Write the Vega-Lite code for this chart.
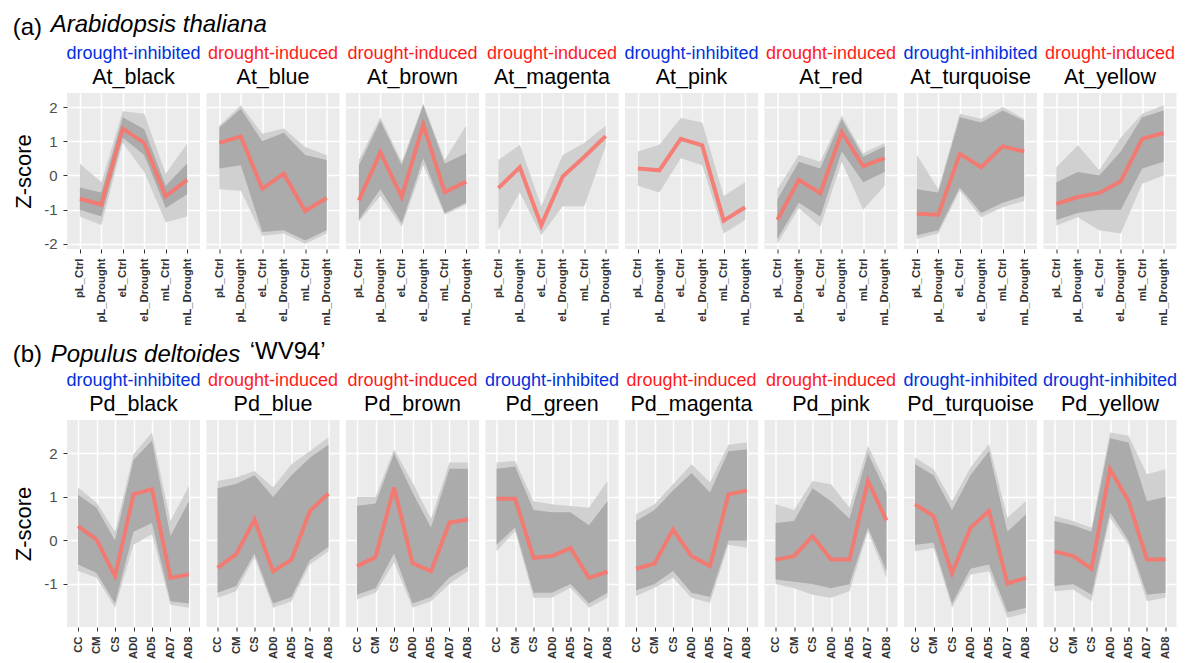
{
"$schema": "https://vega.github.io/schema/vega-lite/v6.json",
"padding": {"left": 12, "top": 12, "right": 2, "bottom": 0},
"data": {"name": "d"},
"datasets": {"d": [
{"m":"At_black","c":"pL_Ctrl","v":-0.68,"lo":-1.2,"hi":0.34,"a":-1.0,"b":-0.35},
{"m":"At_black","c":"pL_Drought","v":-0.85,"lo":-1.45,"hi":-0.2,"a":-1.2,"b":-0.5},
{"m":"At_black","c":"eL_Ctrl","v":1.37,"lo":0.95,"hi":1.88,"a":1.1,"b":1.7},
{"m":"At_black","c":"eL_Drought","v":0.95,"lo":0.1,"hi":1.8,"a":0.6,"b":1.35},
{"m":"At_black","c":"mL_Ctrl","v":-0.61,"lo":-1.37,"hi":0.05,"a":-0.95,"b":-0.3},
{"m":"At_black","c":"mL_Drought","v":-0.13,"lo":-1.2,"hi":0.93,"a":-0.55,"b":0.35},
{"m":"At_blue","c":"pL_Ctrl","v":0.95,"lo":-0.4,"hi":1.46,"a":0.2,"b":1.4},
{"m":"At_blue","c":"pL_Drought","v":1.14,"lo":-0.45,"hi":2.05,"a":0.3,"b":1.95},
{"m":"At_blue","c":"eL_Ctrl","v":-0.39,"lo":-1.76,"hi":1.22,"a":-1.65,"b":1.0},
{"m":"At_blue","c":"eL_Drought","v":0.05,"lo":-1.7,"hi":1.37,"a":-1.6,"b":1.25},
{"m":"At_blue","c":"mL_Ctrl","v":-1.04,"lo":-2.0,"hi":0.83,"a":-1.9,"b":0.6},
{"m":"At_blue","c":"mL_Drought","v":-0.66,"lo":-1.7,"hi":0.59,"a":-1.6,"b":0.45},
{"m":"At_brown","c":"pL_Ctrl","v":-0.73,"lo":-1.35,"hi":0.45,"a":-1.3,"b":0.3},
{"m":"At_brown","c":"pL_Drought","v":0.68,"lo":-0.6,"hi":1.7,"a":-0.4,"b":1.6},
{"m":"At_brown","c":"eL_Ctrl","v":-0.63,"lo":-1.5,"hi":0.4,"a":-1.4,"b":0.3},
{"m":"At_brown","c":"eL_Drought","v":1.49,"lo":0.3,"hi":2.1,"a":0.5,"b":2.05},
{"m":"At_brown","c":"mL_Ctrl","v":-0.49,"lo":-1.15,"hi":0.45,"a":-1.1,"b":0.35},
{"m":"At_brown","c":"mL_Drought","v":-0.18,"lo":-0.85,"hi":1.45,"a":-0.8,"b":0.65},
{"m":"At_magenta","c":"pL_Ctrl","v":-0.37,"lo":-1.6,"hi":0.45},
{"m":"At_magenta","c":"pL_Drought","v":0.24,"lo":-0.5,"hi":0.9},
{"m":"At_magenta","c":"eL_Ctrl","v":-1.46,"lo":-1.75,"hi":-0.9},
{"m":"At_magenta","c":"eL_Drought","v":-0.03,"lo":-0.9,"hi":0.6},
{"m":"At_magenta","c":"mL_Ctrl","v":0.54,"lo":-0.9,"hi":0.95},
{"m":"At_magenta","c":"mL_Drought","v":1.15,"lo":0.85,"hi":1.45},
{"m":"At_pink","c":"pL_Ctrl","v":0.2,"lo":-0.3,"hi":0.7},
{"m":"At_pink","c":"pL_Drought","v":0.15,"lo":-0.5,"hi":0.9},
{"m":"At_pink","c":"eL_Ctrl","v":1.07,"lo":0.5,"hi":1.68},
{"m":"At_pink","c":"eL_Drought","v":0.88,"lo":0.3,"hi":1.55},
{"m":"At_pink","c":"mL_Ctrl","v":-1.32,"lo":-1.7,"hi":-0.6},
{"m":"At_pink","c":"mL_Drought","v":-0.93,"lo":-1.3,"hi":-0.2},
{"m":"At_red","c":"pL_Ctrl","v":-1.3,"lo":-2.0,"hi":-0.4,"a":-1.85,"b":-0.7},
{"m":"At_red","c":"pL_Drought","v":-0.13,"lo":-0.95,"hi":0.6,"a":-0.8,"b":0.4},
{"m":"At_red","c":"eL_Ctrl","v":-0.52,"lo":-1.5,"hi":0.4,"a":-1.2,"b":0.2},
{"m":"At_red","c":"eL_Drought","v":1.27,"lo":0.4,"hi":1.75,"a":0.7,"b":1.65},
{"m":"At_red","c":"mL_Ctrl","v":0.27,"lo":-1.0,"hi":0.65,"a":-0.2,"b":0.55},
{"m":"At_red","c":"mL_Drought","v":0.51,"lo":-0.3,"hi":0.95,"a":0.1,"b":0.85},
{"m":"At_turquoise","c":"pL_Ctrl","v":-1.12,"lo":-1.85,"hi":0.6,"a":-1.75,"b":-0.4},
{"m":"At_turquoise","c":"pL_Drought","v":-1.15,"lo":-1.7,"hi":-0.4,"a":-1.6,"b":-0.5},
{"m":"At_turquoise","c":"eL_Ctrl","v":0.63,"lo":-0.45,"hi":1.8,"a":-0.35,"b":1.7},
{"m":"At_turquoise","c":"eL_Drought","v":0.24,"lo":-1.22,"hi":1.66,"a":-1.1,"b":1.55},
{"m":"At_turquoise","c":"mL_Ctrl","v":0.85,"lo":-0.93,"hi":2.0,"a":-0.8,"b":1.9},
{"m":"At_turquoise","c":"mL_Drought","v":0.7,"lo":-0.75,"hi":1.66,"a":-0.6,"b":1.6},
{"m":"At_yellow","c":"pL_Ctrl","v":-0.83,"lo":-1.46,"hi":0.24,"a":-1.3,"b":-0.2},
{"m":"At_yellow","c":"pL_Drought","v":-0.63,"lo":-1.22,"hi":0.88,"a":-1.1,"b":0.1},
{"m":"At_yellow","c":"eL_Ctrl","v":-0.51,"lo":-1.6,"hi":0.15,"a":-1.0,"b":0.0},
{"m":"At_yellow","c":"eL_Drought","v":-0.17,"lo":-1.7,"hi":1.1,"a":-1.0,"b":0.7},
{"m":"At_yellow","c":"mL_Ctrl","v":1.07,"lo":-0.24,"hi":1.8,"a":0.2,"b":1.7},
{"m":"At_yellow","c":"mL_Drought","v":1.24,"lo":0.0,"hi":2.05,"a":0.4,"b":1.9},
{"m":"Pd_black","c":"CC","v":0.33,"lo":-0.7,"hi":1.22,"a":-0.55,"b":1.05},
{"m":"Pd_black","c":"CM","v":0.02,"lo":-0.86,"hi":0.87,"a":-0.75,"b":0.75},
{"m":"Pd_black","c":"CS","v":-0.82,"lo":-1.55,"hi":0.2,"a":-1.45,"b":0.0},
{"m":"Pd_black","c":"AD0","v":1.06,"lo":-0.1,"hi":1.98,"a":0.2,"b":1.85},
{"m":"Pd_black","c":"AD5","v":1.18,"lo":0.14,"hi":2.48,"a":0.4,"b":2.3},
{"m":"Pd_black","c":"AD7","v":-0.86,"lo":-1.48,"hi":0.45,"a":-1.4,"b":0.1},
{"m":"Pd_black","c":"AD8","v":-0.78,"lo":-1.55,"hi":1.25,"a":-1.45,"b":0.9},
{"m":"Pd_blue","c":"CC","v":-0.63,"lo":-1.32,"hi":1.37,"a":-1.2,"b":1.2},
{"m":"Pd_blue","c":"CM","v":-0.32,"lo":-1.17,"hi":1.45,"a":-1.05,"b":1.3},
{"m":"Pd_blue","c":"CS","v":0.48,"lo":-0.4,"hi":1.6,"a":-0.3,"b":1.5},
{"m":"Pd_blue","c":"AD0","v":-0.71,"lo":-1.55,"hi":1.22,"a":-1.45,"b":1.0},
{"m":"Pd_blue","c":"AD5","v":-0.44,"lo":-1.4,"hi":1.75,"a":-1.3,"b":1.5},
{"m":"Pd_blue","c":"AD7","v":0.68,"lo":-0.55,"hi":2.06,"a":-0.45,"b":1.9},
{"m":"Pd_blue","c":"AD8","v":1.08,"lo":-0.25,"hi":2.37,"a":-0.15,"b":2.2},
{"m":"Pd_brown","c":"CC","v":-0.59,"lo":-1.35,"hi":1.0,"a":-1.25,"b":0.8},
{"m":"Pd_brown","c":"CM","v":-0.38,"lo":-1.2,"hi":1.0,"a":-1.1,"b":0.85},
{"m":"Pd_brown","c":"CS","v":1.22,"lo":-0.5,"hi":2.1,"a":-0.3,"b":2.0},
{"m":"Pd_brown","c":"AD0","v":-0.52,"lo":-1.55,"hi":1.33,"a":-1.45,"b":1.1},
{"m":"Pd_brown","c":"AD5","v":-0.71,"lo":-1.4,"hi":0.5,"a":-1.3,"b":0.3},
{"m":"Pd_brown","c":"AD7","v":0.41,"lo":-1.0,"hi":1.79,"a":-0.85,"b":1.65},
{"m":"Pd_brown","c":"AD8","v":0.48,"lo":-0.7,"hi":1.79,"a":-0.6,"b":1.65},
{"m":"Pd_green","c":"CC","v":0.96,"lo":-0.25,"hi":1.79,"a":-0.1,"b":1.65},
{"m":"Pd_green","c":"CM","v":0.96,"lo":0.22,"hi":1.83,"a":0.3,"b":1.7},
{"m":"Pd_green","c":"CS","v":-0.4,"lo":-1.32,"hi":0.9,"a":-1.2,"b":0.7},
{"m":"Pd_green","c":"AD0","v":-0.36,"lo":-1.32,"hi":0.83,"a":-1.2,"b":0.65},
{"m":"Pd_green","c":"AD5","v":-0.17,"lo":-1.09,"hi":0.79,"a":-1.0,"b":0.65},
{"m":"Pd_green","c":"AD7","v":-0.86,"lo":-1.55,"hi":0.75,"a":-1.45,"b":0.35},
{"m":"Pd_green","c":"AD8","v":-0.72,"lo":-1.32,"hi":1.37,"a":-1.2,"b":0.9},
{"m":"Pd_magenta","c":"CC","v":-0.65,"lo":-1.28,"hi":0.6,"a":-1.15,"b":0.45},
{"m":"Pd_magenta","c":"CM","v":-0.53,"lo":-1.09,"hi":0.83,"a":-1.0,"b":0.7},
{"m":"Pd_magenta","c":"CS","v":0.25,"lo":-0.86,"hi":1.29,"a":-0.7,"b":1.15},
{"m":"Pd_magenta","c":"AD0","v":-0.36,"lo":-1.32,"hi":1.75,"a":-1.2,"b":1.55},
{"m":"Pd_magenta","c":"AD5","v":-0.59,"lo":-1.44,"hi":1.33,"a":-1.3,"b":1.1},
{"m":"Pd_magenta","c":"AD7","v":1.06,"lo":-0.1,"hi":2.2,"a":0.0,"b":2.05},
{"m":"Pd_magenta","c":"AD8","v":1.15,"lo":-0.17,"hi":2.25,"a":0.0,"b":2.1},
{"m":"Pd_pink","c":"CC","v":-0.44,"lo":-1.0,"hi":0.83,"a":-0.9,"b":0.4},
{"m":"Pd_pink","c":"CM","v":-0.36,"lo":-1.1,"hi":0.7,"a":-0.95,"b":0.45},
{"m":"Pd_pink","c":"CS","v":0.1,"lo":-1.25,"hi":1.37,"a":-1.0,"b":1.2},
{"m":"Pd_pink","c":"AD0","v":-0.44,"lo":-1.32,"hi":1.29,"a":-1.1,"b":0.9},
{"m":"Pd_pink","c":"AD5","v":-0.44,"lo":-1.17,"hi":0.75,"a":-1.0,"b":0.5},
{"m":"Pd_pink","c":"AD7","v":1.37,"lo":0.2,"hi":2.18,"a":0.3,"b":2.0},
{"m":"Pd_pink","c":"AD8","v":0.46,"lo":-0.86,"hi":1.29,"a":-0.7,"b":1.1},
{"m":"Pd_turquoise","c":"CC","v":0.83,"lo":-0.25,"hi":1.91,"a":-0.1,"b":1.75},
{"m":"Pd_turquoise","c":"CM","v":0.56,"lo":-0.17,"hi":1.64,"a":-0.05,"b":1.5},
{"m":"Pd_turquoise","c":"CS","v":-0.75,"lo":-1.55,"hi":0.9,"a":-1.45,"b":0.7},
{"m":"Pd_turquoise","c":"AD0","v":0.29,"lo":-0.78,"hi":1.68,"a":-0.65,"b":1.5},
{"m":"Pd_turquoise","c":"AD5","v":0.68,"lo":-0.71,"hi":2.22,"a":-0.55,"b":2.05},
{"m":"Pd_turquoise","c":"AD7","v":-0.99,"lo":-1.78,"hi":0.52,"a":-1.65,"b":0.2},
{"m":"Pd_turquoise","c":"AD8","v":-0.86,"lo":-1.67,"hi":0.91,"a":-1.55,"b":0.6},
{"m":"Pd_yellow","c":"CC","v":-0.25,"lo":-1.17,"hi":0.56,"a":-1.05,"b":0.45},
{"m":"Pd_yellow","c":"CM","v":-0.36,"lo":-1.13,"hi":0.45,"a":-1.0,"b":0.35},
{"m":"Pd_yellow","c":"CS","v":-0.65,"lo":-1.4,"hi":0.29,"a":-1.25,"b":0.2},
{"m":"Pd_yellow","c":"AD0","v":1.64,"lo":0.52,"hi":2.48,"a":0.65,"b":2.35},
{"m":"Pd_yellow","c":"AD5","v":0.91,"lo":-0.1,"hi":2.41,"a":0.0,"b":2.25},
{"m":"Pd_yellow","c":"AD7","v":-0.44,"lo":-1.4,"hi":1.52,"a":-1.25,"b":0.9},
{"m":"Pd_yellow","c":"AD8","v":-0.44,"lo":-1.32,"hi":1.64,"a":-1.2,"b":1.0}
]},
"spacing": 13,
"vconcat": [
{"title": {"text": "(a)", "fontSize": 24, "anchor": "start", "color": "#000000", "offset": 0, "dy": 27},
 "vconcat": [
 {"title": {"text": "Arabidopsis thaliana", "fontStyle": "italic", "fontSize": 24, "anchor": "start", "color": "#000000", "offset": 8, "dx": 38},
  "bounds": "flush", "spacing": 6.5,
  "hconcat": [
  {"height": 156, "title": {"text": "drought-inhibited", "color": "#0030E0", "subtitle": "At_black"},
   "transform": [{"filter": {"field": "m", "equal": "At_black"}}],
   "encoding": {"x": {"field": "c", "type": "nominal", "sort": null, "title": null}},
   "resolve": {"axis": {"y": "independent"}},
   "layer": [
    {"mark": {"type": "area", "color": "#D0D0D0"}, "encoding": {"y": {"field": "lo", "type": "quantitative", "scale": {"domain": [-2.15, 2.41], "nice": false, "zero": false}, "axis": {"values": [-2,-1,0,1,2], "title": "Z-score", "titleFontSize": 22, "titleFontWeight": "normal", "titleColor": "#000000", "titlePadding": 8}}, "y2": {"field": "hi"}}},
    {"layer": [
     {"mark": {"type": "area", "color": "#ABABAB"}, "encoding": {"y": {"field": "a", "type": "quantitative", "scale": {"domain": [-2.15, 2.41], "nice": false, "zero": false}, "axis": {"values": [-1.5,-0.5,0.5,1.5], "orient": "right", "labels": false, "ticks": false, "title": null, "gridWidth": 0.7}}, "y2": {"field": "b"}}},
     {"mark": {"type": "line", "color": "#F8766D", "strokeWidth": 4, "opacity": 0.9}, "encoding": {"y": {"field": "v", "type": "quantitative", "scale": {"domain": [-2.15, 2.41], "nice": false, "zero": false}}}}
    ]}
   ]},
  {"height": 156, "title": {"text": "drought-induced", "color": "#FF1A1A", "subtitle": "At_blue"},
   "transform": [{"filter": {"field": "m", "equal": "At_blue"}}],
   "encoding": {"x": {"field": "c", "type": "nominal", "sort": null, "title": null}},
   "resolve": {"axis": {"y": "independent"}},
   "layer": [
    {"mark": {"type": "area", "color": "#D0D0D0"}, "encoding": {"y": {"field": "lo", "type": "quantitative", "scale": {"domain": [-2.15, 2.41], "nice": false, "zero": false}, "axis": {"values": [-2,-1,0,1,2], "labels": false, "ticks": false, "title": null}}, "y2": {"field": "hi"}}},
    {"layer": [
     {"mark": {"type": "area", "color": "#ABABAB"}, "encoding": {"y": {"field": "a", "type": "quantitative", "scale": {"domain": [-2.15, 2.41], "nice": false, "zero": false}, "axis": {"values": [-1.5,-0.5,0.5,1.5], "orient": "right", "labels": false, "ticks": false, "title": null, "gridWidth": 0.7}}, "y2": {"field": "b"}}},
     {"mark": {"type": "line", "color": "#F8766D", "strokeWidth": 4, "opacity": 0.9}, "encoding": {"y": {"field": "v", "type": "quantitative", "scale": {"domain": [-2.15, 2.41], "nice": false, "zero": false}}}}
    ]}
   ]},
  {"height": 156, "title": {"text": "drought-induced", "color": "#FF1A1A", "subtitle": "At_brown"},
   "transform": [{"filter": {"field": "m", "equal": "At_brown"}}],
   "encoding": {"x": {"field": "c", "type": "nominal", "sort": null, "title": null}},
   "resolve": {"axis": {"y": "independent"}},
   "layer": [
    {"mark": {"type": "area", "color": "#D0D0D0"}, "encoding": {"y": {"field": "lo", "type": "quantitative", "scale": {"domain": [-2.15, 2.41], "nice": false, "zero": false}, "axis": {"values": [-2,-1,0,1,2], "labels": false, "ticks": false, "title": null}}, "y2": {"field": "hi"}}},
    {"layer": [
     {"mark": {"type": "area", "color": "#ABABAB"}, "encoding": {"y": {"field": "a", "type": "quantitative", "scale": {"domain": [-2.15, 2.41], "nice": false, "zero": false}, "axis": {"values": [-1.5,-0.5,0.5,1.5], "orient": "right", "labels": false, "ticks": false, "title": null, "gridWidth": 0.7}}, "y2": {"field": "b"}}},
     {"mark": {"type": "line", "color": "#F8766D", "strokeWidth": 4, "opacity": 0.9}, "encoding": {"y": {"field": "v", "type": "quantitative", "scale": {"domain": [-2.15, 2.41], "nice": false, "zero": false}}}}
    ]}
   ]},
  {"height": 156, "title": {"text": "drought-induced", "color": "#FF1A1A", "subtitle": "At_magenta"},
   "transform": [{"filter": {"field": "m", "equal": "At_magenta"}}],
   "encoding": {"x": {"field": "c", "type": "nominal", "sort": null, "title": null}},
   "resolve": {"axis": {"y": "independent"}},
   "layer": [
    {"mark": {"type": "area", "color": "#D0D0D0"}, "encoding": {"y": {"field": "lo", "type": "quantitative", "scale": {"domain": [-2.15, 2.41], "nice": false, "zero": false}, "axis": {"values": [-2,-1,0,1,2], "labels": false, "ticks": false, "title": null}}, "y2": {"field": "hi"}}},
    {"mark": {"type": "line", "color": "#F8766D", "strokeWidth": 4, "opacity": 0.9}, "encoding": {"y": {"field": "v", "type": "quantitative", "scale": {"domain": [-2.15, 2.41], "nice": false, "zero": false}, "axis": {"values": [-1.5,-0.5,0.5,1.5], "orient": "right", "labels": false, "ticks": false, "title": null, "gridWidth": 0.7}}}}
   ]},
  {"height": 156, "title": {"text": "drought-inhibited", "color": "#0030E0", "subtitle": "At_pink"},
   "transform": [{"filter": {"field": "m", "equal": "At_pink"}}],
   "encoding": {"x": {"field": "c", "type": "nominal", "sort": null, "title": null}},
   "resolve": {"axis": {"y": "independent"}},
   "layer": [
    {"mark": {"type": "area", "color": "#D0D0D0"}, "encoding": {"y": {"field": "lo", "type": "quantitative", "scale": {"domain": [-2.15, 2.41], "nice": false, "zero": false}, "axis": {"values": [-2,-1,0,1,2], "labels": false, "ticks": false, "title": null}}, "y2": {"field": "hi"}}},
    {"mark": {"type": "line", "color": "#F8766D", "strokeWidth": 4, "opacity": 0.9}, "encoding": {"y": {"field": "v", "type": "quantitative", "scale": {"domain": [-2.15, 2.41], "nice": false, "zero": false}, "axis": {"values": [-1.5,-0.5,0.5,1.5], "orient": "right", "labels": false, "ticks": false, "title": null, "gridWidth": 0.7}}}}
   ]},
  {"height": 156, "title": {"text": "drought-induced", "color": "#FF1A1A", "subtitle": "At_red"},
   "transform": [{"filter": {"field": "m", "equal": "At_red"}}],
   "encoding": {"x": {"field": "c", "type": "nominal", "sort": null, "title": null}},
   "resolve": {"axis": {"y": "independent"}},
   "layer": [
    {"mark": {"type": "area", "color": "#D0D0D0"}, "encoding": {"y": {"field": "lo", "type": "quantitative", "scale": {"domain": [-2.15, 2.41], "nice": false, "zero": false}, "axis": {"values": [-2,-1,0,1,2], "labels": false, "ticks": false, "title": null}}, "y2": {"field": "hi"}}},
    {"layer": [
     {"mark": {"type": "area", "color": "#ABABAB"}, "encoding": {"y": {"field": "a", "type": "quantitative", "scale": {"domain": [-2.15, 2.41], "nice": false, "zero": false}, "axis": {"values": [-1.5,-0.5,0.5,1.5], "orient": "right", "labels": false, "ticks": false, "title": null, "gridWidth": 0.7}}, "y2": {"field": "b"}}},
     {"mark": {"type": "line", "color": "#F8766D", "strokeWidth": 4, "opacity": 0.9}, "encoding": {"y": {"field": "v", "type": "quantitative", "scale": {"domain": [-2.15, 2.41], "nice": false, "zero": false}}}}
    ]}
   ]},
  {"height": 156, "title": {"text": "drought-inhibited", "color": "#0030E0", "subtitle": "At_turquoise"},
   "transform": [{"filter": {"field": "m", "equal": "At_turquoise"}}],
   "encoding": {"x": {"field": "c", "type": "nominal", "sort": null, "title": null}},
   "resolve": {"axis": {"y": "independent"}},
   "layer": [
    {"mark": {"type": "area", "color": "#D0D0D0"}, "encoding": {"y": {"field": "lo", "type": "quantitative", "scale": {"domain": [-2.15, 2.41], "nice": false, "zero": false}, "axis": {"values": [-2,-1,0,1,2], "labels": false, "ticks": false, "title": null}}, "y2": {"field": "hi"}}},
    {"layer": [
     {"mark": {"type": "area", "color": "#ABABAB"}, "encoding": {"y": {"field": "a", "type": "quantitative", "scale": {"domain": [-2.15, 2.41], "nice": false, "zero": false}, "axis": {"values": [-1.5,-0.5,0.5,1.5], "orient": "right", "labels": false, "ticks": false, "title": null, "gridWidth": 0.7}}, "y2": {"field": "b"}}},
     {"mark": {"type": "line", "color": "#F8766D", "strokeWidth": 4, "opacity": 0.9}, "encoding": {"y": {"field": "v", "type": "quantitative", "scale": {"domain": [-2.15, 2.41], "nice": false, "zero": false}}}}
    ]}
   ]},
  {"height": 156, "title": {"text": "drought-induced", "color": "#FF1A1A", "subtitle": "At_yellow"},
   "transform": [{"filter": {"field": "m", "equal": "At_yellow"}}],
   "encoding": {"x": {"field": "c", "type": "nominal", "sort": null, "title": null}},
   "resolve": {"axis": {"y": "independent"}},
   "layer": [
    {"mark": {"type": "area", "color": "#D0D0D0"}, "encoding": {"y": {"field": "lo", "type": "quantitative", "scale": {"domain": [-2.15, 2.41], "nice": false, "zero": false}, "axis": {"values": [-2,-1,0,1,2], "labels": false, "ticks": false, "title": null}}, "y2": {"field": "hi"}}},
    {"layer": [
     {"mark": {"type": "area", "color": "#ABABAB"}, "encoding": {"y": {"field": "a", "type": "quantitative", "scale": {"domain": [-2.15, 2.41], "nice": false, "zero": false}, "axis": {"values": [-1.5,-0.5,0.5,1.5], "orient": "right", "labels": false, "ticks": false, "title": null, "gridWidth": 0.7}}, "y2": {"field": "b"}}},
     {"mark": {"type": "line", "color": "#F8766D", "strokeWidth": 4, "opacity": 0.9}, "encoding": {"y": {"field": "v", "type": "quantitative", "scale": {"domain": [-2.15, 2.41], "nice": false, "zero": false}}}}
    ]}
   ]}
  ]}
 ]},
{"title": {"text": "(b)", "fontSize": 24, "anchor": "start", "color": "#000000", "offset": 0, "dy": 27},
 "vconcat": [
 {"title": {"text": "Populus deltoides", "fontStyle": "italic", "fontSize": 24, "anchor": "start", "color": "#000000", "offset": 0, "dx": 38, "dy": 27},
  "vconcat": [
  {"title": {"text": "‘WV94’", "fontSize": 24, "anchor": "start", "color": "#000000", "offset": 8, "dx": 237},
   "bounds": "flush", "spacing": 6.5,
   "hconcat": [
   {"height": 207, "title": {"text": "drought-inhibited", "color": "#0030E0", "subtitle": "Pd_black"},
    "transform": [{"filter": {"field": "m", "equal": "Pd_black"}}],
    "encoding": {"x": {"field": "c", "type": "nominal", "sort": null, "title": null}},
    "resolve": {"axis": {"y": "independent"}},
    "layer": [
     {"mark": {"type": "area", "color": "#D0D0D0"}, "encoding": {"y": {"field": "lo", "type": "quantitative", "scale": {"domain": [-1.99, 2.77], "nice": false, "zero": false}, "axis": {"values": [-1,0,1,2], "title": "Z-score", "titleFontSize": 22, "titleFontWeight": "normal", "titleColor": "#000000", "titlePadding": 8}}, "y2": {"field": "hi"}}},
     {"layer": [
      {"mark": {"type": "area", "color": "#ABABAB"}, "encoding": {"y": {"field": "a", "type": "quantitative", "scale": {"domain": [-1.99, 2.77], "nice": false, "zero": false}, "axis": {"values": [-1.5,-0.5,0.5,1.5,2.5], "orient": "right", "labels": false, "ticks": false, "title": null, "gridWidth": 0.7}}, "y2": {"field": "b"}}},
      {"mark": {"type": "line", "color": "#F8766D", "strokeWidth": 4, "opacity": 0.9}, "encoding": {"y": {"field": "v", "type": "quantitative", "scale": {"domain": [-1.99, 2.77], "nice": false, "zero": false}}}}
     ]}
    ]},
   {"height": 207, "title": {"text": "drought-induced", "color": "#FF1A1A", "subtitle": "Pd_blue"},
    "transform": [{"filter": {"field": "m", "equal": "Pd_blue"}}],
    "encoding": {"x": {"field": "c", "type": "nominal", "sort": null, "title": null}},
    "resolve": {"axis": {"y": "independent"}},
    "layer": [
     {"mark": {"type": "area", "color": "#D0D0D0"}, "encoding": {"y": {"field": "lo", "type": "quantitative", "scale": {"domain": [-1.99, 2.77], "nice": false, "zero": false}, "axis": {"values": [-1,0,1,2], "labels": false, "ticks": false, "title": null}}, "y2": {"field": "hi"}}},
     {"layer": [
      {"mark": {"type": "area", "color": "#ABABAB"}, "encoding": {"y": {"field": "a", "type": "quantitative", "scale": {"domain": [-1.99, 2.77], "nice": false, "zero": false}, "axis": {"values": [-1.5,-0.5,0.5,1.5,2.5], "orient": "right", "labels": false, "ticks": false, "title": null, "gridWidth": 0.7}}, "y2": {"field": "b"}}},
      {"mark": {"type": "line", "color": "#F8766D", "strokeWidth": 4, "opacity": 0.9}, "encoding": {"y": {"field": "v", "type": "quantitative", "scale": {"domain": [-1.99, 2.77], "nice": false, "zero": false}}}}
     ]}
    ]},
   {"height": 207, "title": {"text": "drought-induced", "color": "#FF1A1A", "subtitle": "Pd_brown"},
    "transform": [{"filter": {"field": "m", "equal": "Pd_brown"}}],
    "encoding": {"x": {"field": "c", "type": "nominal", "sort": null, "title": null}},
    "resolve": {"axis": {"y": "independent"}},
    "layer": [
     {"mark": {"type": "area", "color": "#D0D0D0"}, "encoding": {"y": {"field": "lo", "type": "quantitative", "scale": {"domain": [-1.99, 2.77], "nice": false, "zero": false}, "axis": {"values": [-1,0,1,2], "labels": false, "ticks": false, "title": null}}, "y2": {"field": "hi"}}},
     {"layer": [
      {"mark": {"type": "area", "color": "#ABABAB"}, "encoding": {"y": {"field": "a", "type": "quantitative", "scale": {"domain": [-1.99, 2.77], "nice": false, "zero": false}, "axis": {"values": [-1.5,-0.5,0.5,1.5,2.5], "orient": "right", "labels": false, "ticks": false, "title": null, "gridWidth": 0.7}}, "y2": {"field": "b"}}},
      {"mark": {"type": "line", "color": "#F8766D", "strokeWidth": 4, "opacity": 0.9}, "encoding": {"y": {"field": "v", "type": "quantitative", "scale": {"domain": [-1.99, 2.77], "nice": false, "zero": false}}}}
     ]}
    ]},
   {"height": 207, "title": {"text": "drought-inhibited", "color": "#0030E0", "subtitle": "Pd_green"},
    "transform": [{"filter": {"field": "m", "equal": "Pd_green"}}],
    "encoding": {"x": {"field": "c", "type": "nominal", "sort": null, "title": null}},
    "resolve": {"axis": {"y": "independent"}},
    "layer": [
     {"mark": {"type": "area", "color": "#D0D0D0"}, "encoding": {"y": {"field": "lo", "type": "quantitative", "scale": {"domain": [-1.99, 2.77], "nice": false, "zero": false}, "axis": {"values": [-1,0,1,2], "labels": false, "ticks": false, "title": null}}, "y2": {"field": "hi"}}},
     {"layer": [
      {"mark": {"type": "area", "color": "#ABABAB"}, "encoding": {"y": {"field": "a", "type": "quantitative", "scale": {"domain": [-1.99, 2.77], "nice": false, "zero": false}, "axis": {"values": [-1.5,-0.5,0.5,1.5,2.5], "orient": "right", "labels": false, "ticks": false, "title": null, "gridWidth": 0.7}}, "y2": {"field": "b"}}},
      {"mark": {"type": "line", "color": "#F8766D", "strokeWidth": 4, "opacity": 0.9}, "encoding": {"y": {"field": "v", "type": "quantitative", "scale": {"domain": [-1.99, 2.77], "nice": false, "zero": false}}}}
     ]}
    ]},
   {"height": 207, "title": {"text": "drought-induced", "color": "#FF1A1A", "subtitle": "Pd_magenta"},
    "transform": [{"filter": {"field": "m", "equal": "Pd_magenta"}}],
    "encoding": {"x": {"field": "c", "type": "nominal", "sort": null, "title": null}},
    "resolve": {"axis": {"y": "independent"}},
    "layer": [
     {"mark": {"type": "area", "color": "#D0D0D0"}, "encoding": {"y": {"field": "lo", "type": "quantitative", "scale": {"domain": [-1.99, 2.77], "nice": false, "zero": false}, "axis": {"values": [-1,0,1,2], "labels": false, "ticks": false, "title": null}}, "y2": {"field": "hi"}}},
     {"layer": [
      {"mark": {"type": "area", "color": "#ABABAB"}, "encoding": {"y": {"field": "a", "type": "quantitative", "scale": {"domain": [-1.99, 2.77], "nice": false, "zero": false}, "axis": {"values": [-1.5,-0.5,0.5,1.5,2.5], "orient": "right", "labels": false, "ticks": false, "title": null, "gridWidth": 0.7}}, "y2": {"field": "b"}}},
      {"mark": {"type": "line", "color": "#F8766D", "strokeWidth": 4, "opacity": 0.9}, "encoding": {"y": {"field": "v", "type": "quantitative", "scale": {"domain": [-1.99, 2.77], "nice": false, "zero": false}}}}
     ]}
    ]},
   {"height": 207, "title": {"text": "drought-induced", "color": "#FF1A1A", "subtitle": "Pd_pink"},
    "transform": [{"filter": {"field": "m", "equal": "Pd_pink"}}],
    "encoding": {"x": {"field": "c", "type": "nominal", "sort": null, "title": null}},
    "resolve": {"axis": {"y": "independent"}},
    "layer": [
     {"mark": {"type": "area", "color": "#D0D0D0"}, "encoding": {"y": {"field": "lo", "type": "quantitative", "scale": {"domain": [-1.99, 2.77], "nice": false, "zero": false}, "axis": {"values": [-1,0,1,2], "labels": false, "ticks": false, "title": null}}, "y2": {"field": "hi"}}},
     {"layer": [
      {"mark": {"type": "area", "color": "#ABABAB"}, "encoding": {"y": {"field": "a", "type": "quantitative", "scale": {"domain": [-1.99, 2.77], "nice": false, "zero": false}, "axis": {"values": [-1.5,-0.5,0.5,1.5,2.5], "orient": "right", "labels": false, "ticks": false, "title": null, "gridWidth": 0.7}}, "y2": {"field": "b"}}},
      {"mark": {"type": "line", "color": "#F8766D", "strokeWidth": 4, "opacity": 0.9}, "encoding": {"y": {"field": "v", "type": "quantitative", "scale": {"domain": [-1.99, 2.77], "nice": false, "zero": false}}}}
     ]}
    ]},
   {"height": 207, "title": {"text": "drought-inhibited", "color": "#0030E0", "subtitle": "Pd_turquoise"},
    "transform": [{"filter": {"field": "m", "equal": "Pd_turquoise"}}],
    "encoding": {"x": {"field": "c", "type": "nominal", "sort": null, "title": null}},
    "resolve": {"axis": {"y": "independent"}},
    "layer": [
     {"mark": {"type": "area", "color": "#D0D0D0"}, "encoding": {"y": {"field": "lo", "type": "quantitative", "scale": {"domain": [-1.99, 2.77], "nice": false, "zero": false}, "axis": {"values": [-1,0,1,2], "labels": false, "ticks": false, "title": null}}, "y2": {"field": "hi"}}},
     {"layer": [
      {"mark": {"type": "area", "color": "#ABABAB"}, "encoding": {"y": {"field": "a", "type": "quantitative", "scale": {"domain": [-1.99, 2.77], "nice": false, "zero": false}, "axis": {"values": [-1.5,-0.5,0.5,1.5,2.5], "orient": "right", "labels": false, "ticks": false, "title": null, "gridWidth": 0.7}}, "y2": {"field": "b"}}},
      {"mark": {"type": "line", "color": "#F8766D", "strokeWidth": 4, "opacity": 0.9}, "encoding": {"y": {"field": "v", "type": "quantitative", "scale": {"domain": [-1.99, 2.77], "nice": false, "zero": false}}}}
     ]}
    ]},
   {"height": 207, "title": {"text": "drought-inhibited", "color": "#0030E0", "subtitle": "Pd_yellow"},
    "transform": [{"filter": {"field": "m", "equal": "Pd_yellow"}}],
    "encoding": {"x": {"field": "c", "type": "nominal", "sort": null, "title": null}},
    "resolve": {"axis": {"y": "independent"}},
    "layer": [
     {"mark": {"type": "area", "color": "#D0D0D0"}, "encoding": {"y": {"field": "lo", "type": "quantitative", "scale": {"domain": [-1.99, 2.77], "nice": false, "zero": false}, "axis": {"values": [-1,0,1,2], "labels": false, "ticks": false, "title": null}}, "y2": {"field": "hi"}}},
     {"layer": [
      {"mark": {"type": "area", "color": "#ABABAB"}, "encoding": {"y": {"field": "a", "type": "quantitative", "scale": {"domain": [-1.99, 2.77], "nice": false, "zero": false}, "axis": {"values": [-1.5,-0.5,0.5,1.5,2.5], "orient": "right", "labels": false, "ticks": false, "title": null, "gridWidth": 0.7}}, "y2": {"field": "b"}}},
      {"mark": {"type": "line", "color": "#F8766D", "strokeWidth": 4, "opacity": 0.9}, "encoding": {"y": {"field": "v", "type": "quantitative", "scale": {"domain": [-1.99, 2.77], "nice": false, "zero": false}}}}
     ]}
    ]}
   ]}
  ]}
 ]}
],
"config": {
 "font": "Liberation Sans",
 "view": {"fill": "#EBEBEB", "stroke": null, "discreteWidth": 133},
 "scale": {"pointPadding": 0.6},
 "axis": {"gridColor": "#FFFFFF", "domain": false, "tickColor": "#333333", "tickSize": 4, "labelColor": "#4D4D4D", "labelFont": "Liberation Sans", "titleFont": "Liberation Sans"},
 "axisX": {"grid": true, "labelAngle": -90, "labelFontSize": 11.3, "labelFontWeight": "bold", "labelColor": "#333333", "labelPadding": 5, "gridWidth": 1.5},
 "axisY": {"grid": true, "gridWidth": 1.5, "labelFontSize": 15, "labelPadding": 6, "labelOverlap": false, "labelExpr": "'' + datum.value"},
 "title": {"fontSize": 18, "fontWeight": "normal", "subtitleFontSize": 21.5, "subtitleColor": "#000000", "subtitlePadding": 4, "offset": 5, "anchor": "middle", "font": "Liberation Sans", "subtitleFont": "Liberation Sans"}
}
}
